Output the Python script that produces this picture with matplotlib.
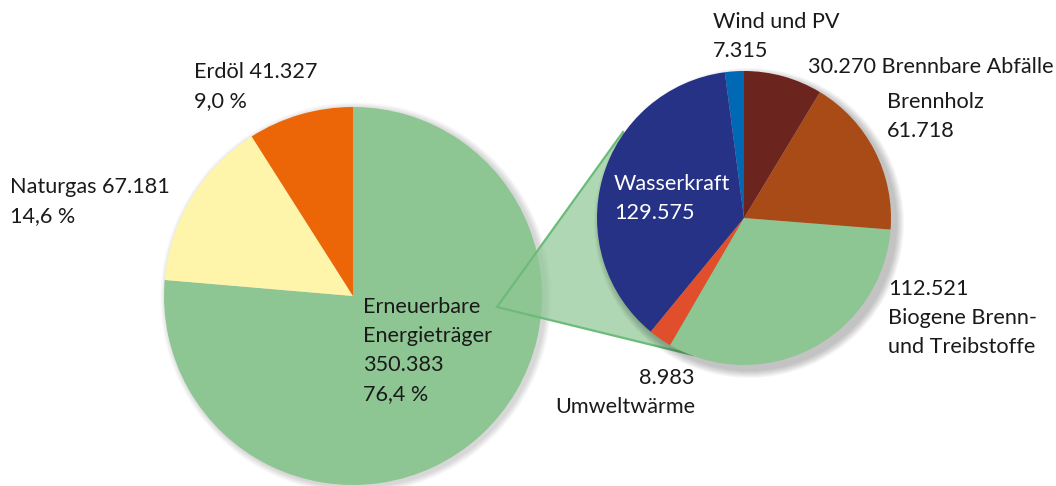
import matplotlib
matplotlib.use("Agg")
import matplotlib.pyplot as plt
from matplotlib.patches import Circle, Polygon

plt.rcParams["font.family"] = ["Lato", "DejaVu Sans"]

# Primärenergie (TJ) - Hauptkreis
main_names = ["Erneuerbare\nEnergieträger", "Naturgas", "Erdöl"]
main_values = [350.383, 67.181, 41.327]
main_colors = ["#8dc693", "#fff5aa", "#ec6608"]

# Aufteilung der erneuerbaren Energieträger
sub_names = ["Wind und PV", "Wasserkraft", "Umweltwärme",
             "Biogene Brenn-\nund Treibstoffe", "Brennholz", "Brennbare Abfälle"]
sub_values = [7.315, 129.575, 8.983, 112.521, 61.718, 30.270]
sub_colors = ["#0068b4", "#253285", "#e04e2b", "#8dc693", "#a84b16", "#6b241e"]

W, H = 1056, 486
fig = plt.figure(figsize=(W / 100, H / 100), dpi=100)
ax = fig.add_axes([0, 0, 1, 1])


def py(y):
    # pixel row -> data y
    return H - y


def num(v):
    return f"{v:.3f}"


def pct(v, total):
    return f"{v / total * 100:.1f}".replace(".", ",") + " %"


big_c, big_r = (353, py(296)), 189
small_c, small_r = (744, py(218)), 147

# soft shadows
for i in range(8):
    ax.add_patch(Circle((big_c[0] + 3, big_c[1] - 2), big_r + 1 + i * 0.8,
                        color="black", alpha=0.018, lw=0, zorder=1))
    ax.add_patch(Circle((small_c[0] + 5, small_c[1] - 5), small_r + 1 + i * 1.0,
                        color="black", alpha=0.03, lw=0, zorder=4))

ax.pie(main_values, colors=main_colors, startangle=90, counterclock=False,
       center=big_c, radius=big_r, frame=True,
       wedgeprops=dict(linewidth=0, zorder=2))

# callout wedge
apex = (497, py(307))
top = (623, py(132))
bot = (693, py(355))
ax.add_patch(Polygon([apex, top, small_c, bot], closed=True,
                     facecolor="#8dc693", alpha=0.7, lw=0, zorder=3))
ax.plot([top[0], apex[0], bot[0]], [top[1], apex[1], bot[1]],
        color="#6cbb7a", lw=1.6, zorder=3, solid_joinstyle="miter")

wedges, _ = ax.pie(sub_values, colors=sub_colors, startangle=90, counterclock=True,
                   center=small_c, radius=small_r, frame=True,
                   wedgeprops=dict(linewidth=0))
for w in wedges:
    w.set_zorder(5)

ax.set_xlim(0, W)
ax.set_ylim(0, H)
ax.set_aspect("equal")
ax.axis("off")

FS = 15.6
LS = 29
total = sum(main_values)


def label(x, y, lines, ha="left", color="#1a1a1a"):
    for i, t in enumerate(lines):
        ax.text(x, py(y + i * LS), t, ha=ha, va="center", fontsize=FS,
                color=color, zorder=10)


label(194, 72, [f"Erdöl {num(main_values[2])}", pct(main_values[2], total)])
label(10, 187, [f"Naturgas {num(main_values[1])}", pct(main_values[1], total)])
label(363, 307, main_names[0].split("\n") + [num(main_values[0]), pct(main_values[0], total)])

label(713, 22, [sub_names[0], num(sub_values[0])])
label(614, 184, [sub_names[1], num(sub_values[1])], color="white")
label(695, 378, [num(sub_values[2]), sub_names[2]], ha="right")
label(888, 289, [num(sub_values[3])] + sub_names[3].split("\n"))
label(887, 102, [sub_names[4], num(sub_values[4])])
label(1054, 67, [f"{num(sub_values[5])} {sub_names[5]}"], ha="right")

fig.savefig("out.png", dpi=100)
